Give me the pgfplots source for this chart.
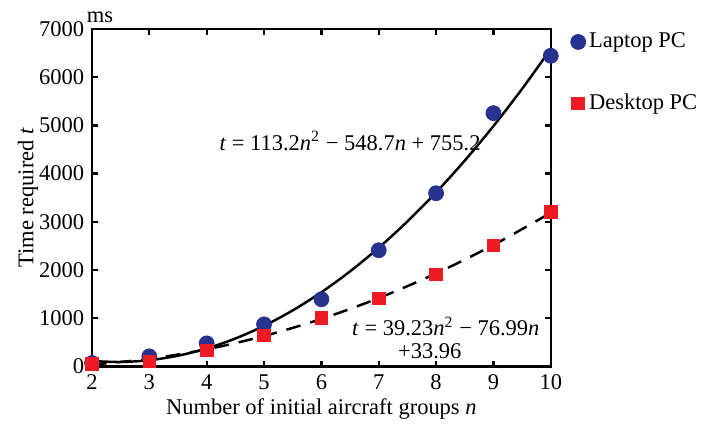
\documentclass[border=0pt]{standalone}
\usepackage{fontspec}
\setmainfont{Liberation Serif}
\usepackage{pgfplots}
\pgfplotsset{compat=1.18}
\definecolor{lapc}{RGB}{40,50,145}
\definecolor{desc}{RGB}{237,28,36}
\begin{document}
\begin{tikzpicture}
\begin{axis}[name=ax, scale only axis, width=204pt, height=150pt,
  xmin=2, xmax=10, ymin=0, ymax=7000,
  xtick={2,3,...,10}, ytick={0,1000,...,7000},
  scaled y ticks=false,
  /pgf/number format/assume math mode=true,
  /pgf/number format/set thousands separator={},
  axis line style={line width=1.1pt},
  every tick/.style={line width=1pt, black},
  major tick length=2.5pt,
  tick align=inside,
  clip=false,
  font=\fontsize{10pt}{12pt}\selectfont,
  xlabel={Number of initial aircraft groups \textit{n}},
  ylabel={Time required \textit{t}},
  xlabel style={yshift=3pt},
  ylabel style={yshift=-6.5pt},
  legend style={at={(rel axis cs:1,1)}, anchor=north west, xshift=5.7pt, yshift=2pt,
    draw=none, fill=none, row sep=16pt, nodes={inner sep=1.5pt}},
  legend cell align=left,
  legend image code/.code={\draw[#1] plot coordinates {(0pt,0pt)};},
]
\addplot[only marks, mark=*, mark size=3.3pt, color=lapc] coordinates {
(2,70) (3,208) (4,478) (5,872) (6,1392) (7,2410) (8,3593) (9,5255) (10,6445)};
\addlegendentry{Laptop PC}
\addplot[only marks, mark=square*, mark size=2.8pt, color=desc] coordinates {
(2,50) (3,100) (4,332) (5,644) (6,1003) (7,1406) (8,1911) (9,2513) (10,3199)};
\addlegendentry{Desktop PC}
\addplot[forget plot, black, line width=1.1pt, smooth] coordinates {
(2,110.6) (2.5,91.0) (3,127.9) (3.5,221.5) (4,371.6) (4.5,578.3) (5,841.7) (5.5,1161.7) (6,1538.2) (6.5,1971.0) (7,2461.1) (7.5,3007.3) (8,3610.4) (8.5,4270.2) (9,4986.1) (9.5,5758.6) (10,6588.2)};
\addplot[forget plot, black, line width=1.1pt, dash pattern=on 6.5pt off 4.5pt, smooth] coordinates {
(2,37.1) (3,156.1) (4,353.7) (5,629.8) (6,984.3) (7,1417.3) (8,1928.8) (9,2518.7) (10,3187.4)};
\node[anchor=base] at (axis cs:6.5,4487) {\textit{t} = 113.2\textit{n}\textsuperscript{2} − 548.7\textit{n} + 755.2};
\node[anchor=base] at (axis cs:8.17,644) {\textit{t} = 39.23\textit{n}\textsuperscript{2} − 76.99\textit{n}};
\node[anchor=base] at (axis cs:7.89,166) {+33.96};
\node[anchor=base, xshift=3.6pt, yshift=3pt] at (rel axis cs:0,1) {ms};
\end{axis}
\path ([shift={(-40.9pt,-26.3pt)}]ax.south west) rectangle ([shift={(73.9pt,12.9pt)}]ax.north east);
\end{tikzpicture}
\end{document}
